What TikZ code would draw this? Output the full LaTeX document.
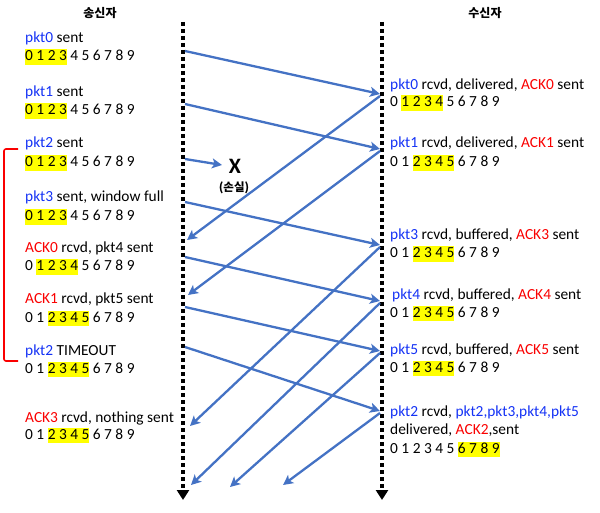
\documentclass[tikz,border=0pt]{standalone}
\usepackage{fontspec}
\setmainfont{Carlito}
\newfontfamily\krfont{Noto Sans CJK KR}
\usetikzlibrary{arrows.meta}
\definecolor{pblue}{RGB}{20,50,245}
\definecolor{pred}{RGB}{250,0,0}
\definecolor{arrowblue}{RGB}{68,114,196}
\definecolor{hlyellow}{RGB}{255,255,0}
\newcommand{\bl}[1]{\textcolor{pblue}{#1}}
\newcommand{\rd}[1]{\textcolor{pred}{#1}}
\newcommand{\hl}[1]{\begingroup\setlength{\fboxsep}{0pt}\colorbox{hlyellow}{\rule[-4pt]{0pt}{15.5pt}#1}\endgroup}
\tikzset{
  txt/.style={anchor=base west, inner sep=0pt, font=\fontsize{15.4}{18}\selectfont},
  hdr/.style={inner sep=0pt, font=\krfont\bfseries\fontsize{12}{14}\selectfont},
  timeline/.style={line width=4pt, dash pattern=on 4pt off 3pt, -{Triangle[length=10pt,width=12pt]}},
  msg/.style={arrowblue, line width=2.3pt, -{Stealth[length=10pt,width=10pt,inset=2.5pt]}},
  bracket/.style={pred, line width=1.6pt, rounded corners=2pt}
}
\begin{document}
\begin{tikzpicture}[x=1pt,y=-1pt]
\useasboundingbox (0,0) rectangle (600,513);
% headers
\node[hdr] (hs) at (100,13) {송신자};
\node[hdr] (hr) at (485,13) {수신자};
% timelines
\coordinate (ltop) at (183,22);
\coordinate (lbot) at (183,500);
\coordinate (rtop) at (382,22);
\coordinate (rbot) at (382,500);
\draw[timeline] (ltop) -- (lbot);
\draw[timeline] (rtop) -- (rbot);
% sender texts
\node[txt] (l0a) at (25,42.5) {\bl{pkt0} sent};
\node[txt] (l0b) at (25,61) {\hl{0 1 2 3} 4 5 6 7 8 9};
\node[txt] (l1a) at (25,97) {\bl{pkt1} sent};
\node[txt] (l1b) at (25,115) {\hl{0 1 2 3} 4 5 6 7 8 9};
\node[txt] (l2a) at (25,148) {\bl{pkt2} sent};
\node[txt] (l2b) at (25,167) {\hl{0 1 2 3} 4 5 6 7 8 9};
\node[txt] (l3a) at (25,202) {\bl{pkt3} sent, window full};
\node[txt] (l3b) at (25,221) {\hl{0 1 2 3} 4 5 6 7 8 9};
\node[txt] (l4a) at (25,253) {\rd{ACK0} rcvd, pkt4 sent};
\node[txt] (l4b) at (25,271) {0 \hl{1 2 3 4} 5 6 7 8 9};
\node[txt] (l5a) at (25,304) {\rd{ACK1} rcvd, pkt5 sent};
\node[txt] (l5b) at (25,322) {0 1 \hl{2 3 4 5} 6 7 8 9};
\node[txt] (l6a) at (25,355) {\bl{pkt2} TIMEOUT};
\node[txt] (l6b) at (25,373) {0 1 \hl{2 3 4 5} 6 7 8 9};
\node[txt] (l7a) at (25,422) {\rd{ACK3} rcvd, nothing sent};
\node[txt] (l7b) at (25,439) {0 1 \hl{2 3 4 5} 6 7 8 9};
% receiver texts
\node[txt] (r0a) at (390,90) {\bl{pkt0} rcvd, delivered, \rd{ACK0} sent};
\node[txt] (r0b) at (390,107) {0 \hl{1 2 3 4} 5 6 7 8 9};
\node[txt] (r1a) at (390,148) {\bl{pkt1} rcvd, delivered, \rd{ACK1} sent};
\node[txt] (r1b) at (390,167) {0 1 \hl{2 3 4 5} 6 7 8 9};
\node[txt] (r3a) at (390,240) {\bl{pkt3} rcvd, buffered, \rd{ACK3} sent};
\node[txt] (r3b) at (390,258) {0 1 \hl{2 3 4 5} 6 7 8 9};
\node[txt] (r4a) at (392,299) {\bl{pkt4} rcvd, buffered, \rd{ACK4} sent};
\node[txt] (r4b) at (390,317) {0 1 \hl{2 3 4 5} 6 7 8 9};
\node[txt] (r5a) at (390,354) {\bl{pkt5} rcvd, buffered, \rd{ACK5} sent};
\node[txt] (r5b) at (390,372) {0 1 \hl{2 3 4 5} 6 7 8 9};
\node[txt] (r2a) at (390,416) {\bl{pkt2} rcvd, \bl{pkt2,pkt3,pkt4,pkt5}};
\node[txt] (r2b) at (390,434) {delivered, \rd{ACK2},sent};
\node[txt] (r2c) at (390,453) {0 1 2 3 4 5 \hl{6 7 8 9}};
% loss mark
\node[inner sep=0pt, font=\bfseries\fontsize{22}{22}\selectfont] (lossx) at (235,166) {X};
\node[inner sep=0pt, font=\krfont\bfseries\fontsize{11.5}{12}\selectfont] (losst) at (234,188) {(손실)};
% sender-side points
\coordinate (s0) at (185,51);
\coordinate (s1) at (185,104);
\coordinate (s2) at (185,159);
\coordinate (s3) at (185,202);
\coordinate (s4) at (185,257);
\coordinate (s5) at (185,307);
\coordinate (s2b) at (185,347);
\coordinate (a0) at (187,240);
\coordinate (a1) at (188,295);
\coordinate (a3) at (190,426);
\coordinate (a4) at (191,485);
\coordinate (a5) at (230,487);
\coordinate (a2) at (283,485);
\coordinate (xend) at (222,165);
% receiver-side points
\coordinate (p0) at (380,94);
\coordinate (p1) at (380,149);
\coordinate (p3) at (380,245);
\coordinate (p4) at (380,301);
\coordinate (p5) at (380,351);
\coordinate (p2) at (380,411);
% data packets
\draw[msg] (s0) -- (p0);
\draw[msg] (s1) -- (p1);
\draw[msg] (s2) -- (xend);
\draw[msg] (s3) -- (p3);
\draw[msg] (s4) -- (p4);
\draw[msg] (s5) -- (p5);
\draw[msg] (s2b) -- (p2);
% acks
\draw[msg] (p0) ++(0,2) -- (a0);
\draw[msg] (p1) ++(0,2) -- (a1);
\draw[msg] (p3) ++(0,2) -- (a3);
\draw[msg] (p4) ++(0,2) -- (a4);
\draw[msg] (p5) ++(0,2) -- (a5);
\draw[msg] (p2) ++(0,2) -- (a2);
% timer bracket
\coordinate (bt) at (18,149);
\coordinate (bb) at (18,361);
\draw[bracket] (bt) -| (4,361) -- (bb);
\end{tikzpicture}
\end{document}
